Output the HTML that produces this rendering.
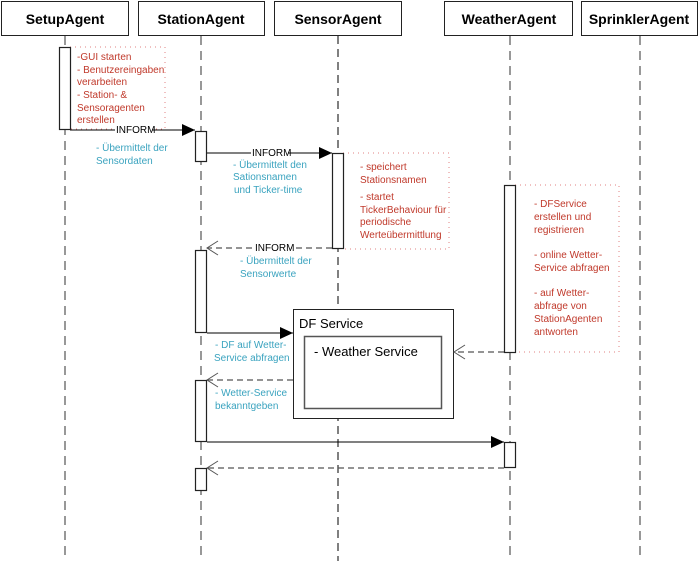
<!DOCTYPE html>
<html><head><meta charset="utf-8"><style>
body{margin:0;background:#fff;}
svg{display:block;font-family:"Liberation Sans",sans-serif;}
.h{font-weight:bold;font-size:14px;text-anchor:middle;}
.r{fill:#c0392b;font-size:10px;}
.b{fill:#3aa3bf;font-size:10px;}
.m{font-size:10px;}
</style></head><body>
<svg width="699" height="561" viewBox="0 0 699 561">
<defs>
<marker id="fa" markerWidth="14" markerHeight="12" refX="13" refY="6" orient="auto" markerUnits="userSpaceOnUse"><path d="M0,0 L13,6 L0,12 Z" fill="#000"/></marker>
<marker id="oa" markerWidth="14" markerHeight="16" refX="12" refY="8" orient="auto" markerUnits="userSpaceOnUse"><path d="M1,1 L12,8 L1,15" fill="none" stroke="#555" stroke-width="1" stroke-dasharray="none"/></marker>
</defs>
<g fill="#fff" stroke="#222" stroke-width="1">
<rect x="1.5" y="1.5" width="127" height="34"/>
<rect x="138.5" y="1.5" width="126" height="34"/>
<rect x="274.5" y="1.5" width="127" height="34"/>
<rect x="444.5" y="1.5" width="128" height="34"/>
<rect x="581.5" y="1.5" width="116" height="34"/>
</g>
<text class="h" x="65" y="24">SetupAgent</text>
<text class="h" x="201" y="24">StationAgent</text>
<text class="h" x="338" y="24">SensorAgent</text>
<text class="h" x="509" y="24">WeatherAgent</text>
<text class="h" x="639" y="24">SprinklerAgent</text>
<g stroke="#777" stroke-width="1.5" stroke-dasharray="9,6">
<line x1="65" y1="36" x2="65" y2="561"/>
<line x1="201" y1="36" x2="201" y2="561"/>
<line x1="510" y1="36" x2="510" y2="561"/>
<line x1="640" y1="36" x2="640" y2="561"/>
</g>
<line x1="338" y1="36" x2="338" y2="561" stroke="#000" stroke-width="1" stroke-dasharray="8,5"/>
<g fill="none" stroke="#e08080" stroke-width="1" stroke-dasharray="1,4">
<rect x="70" y="47" width="95" height="82"/>
<rect x="343" y="153" width="106" height="96"/>
<rect x="515" y="185" width="104" height="167"/>
</g>
<rect x="293.5" y="309.5" width="160" height="109" fill="#fff" stroke="#222"/>
<rect x="304.5" y="336.5" width="137" height="72" fill="#fff" stroke="#555" stroke-width="1.5"/>
<text x="299" y="328" font-size="13">DF Service</text>
<text x="314" y="356" font-size="13">- Weather Service</text>
<g stroke="#000" stroke-width="1" fill="none">
<line x1="70" y1="130" x2="195" y2="130" marker-end="url(#fa)"/>
<line x1="207" y1="153" x2="332" y2="153" marker-end="url(#fa)"/>
<line x1="207" y1="333" x2="293" y2="333" marker-end="url(#fa)"/>
<line x1="207" y1="442" x2="504" y2="442" marker-end="url(#fa)"/>
</g>
<g stroke="#555" stroke-width="1.3" fill="none" stroke-dasharray="6,4">
<line x1="332" y1="248" x2="207" y2="248" marker-end="url(#oa)"/>
<line x1="504" y1="352" x2="454" y2="352" marker-end="url(#oa)"/>
<line x1="293" y1="380" x2="207" y2="380" marker-end="url(#oa)"/>
<line x1="504" y1="468" x2="207" y2="468" marker-end="url(#oa)"/>
</g>
<g fill="#fff" stroke="#222" stroke-width="1.2">
<rect x="59.5" y="47.5" width="11" height="82"/>
<rect x="195.5" y="131.5" width="11" height="30"/>
<rect x="332.5" y="153.5" width="11" height="95"/>
<rect x="195.5" y="250.5" width="11" height="82"/>
<rect x="504.5" y="185.5" width="11" height="167"/>
<rect x="195.5" y="380.5" width="11" height="61"/>
<rect x="504.5" y="442.5" width="11" height="25"/>
<rect x="195.5" y="468.5" width="11" height="22"/>
</g>
<g class="m">
<rect x="115" y="125" width="37" height="10" fill="#fff"/><text x="116" y="133" class="m">INFORM</text>
<rect x="251" y="148" width="37" height="10" fill="#fff"/><text x="252" y="156" class="m">INFORM</text>
<rect x="254" y="243" width="37" height="10" fill="#fff"/><text x="255" y="251" class="m">INFORM</text>
</g>
<g class="r">
<text x="77" y="60">-GUI starten</text>
<text x="77" y="73">- Benutzereingaben</text>
<text x="77" y="85">verarbeiten</text>
<text x="77" y="98">- Station- &amp;</text>
<text x="77" y="111">Sensoragenten</text>
<text x="77" y="123">erstellen</text>
<text x="360" y="170">- speichert</text>
<text x="360" y="183">Stationsnamen</text>
<text x="360" y="200">- startet</text>
<text x="360" y="213">TickerBehaviour für</text>
<text x="360" y="225">periodische</text>
<text x="360" y="238">Werteübermittlung</text>
<text x="534" y="207">- DFService</text>
<text x="534" y="220">erstellen und</text>
<text x="534" y="233">registrieren</text>
<text x="534" y="258">- online Wetter-</text>
<text x="534" y="271">Service abfragen</text>
<text x="534" y="296">- auf Wetter-</text>
<text x="534" y="309">abfrage von</text>
<text x="534" y="322">StationAgenten</text>
<text x="534" y="335">antworten</text>
</g>
<g class="b">
<text x="96" y="151">- Übermittelt der</text>
<text x="96" y="164">Sensordaten</text>
<text x="233" y="168">- Übermittelt den</text>
<text x="233" y="180">Sationsnamen</text>
<text x="234" y="193">und Ticker-time</text>
<text x="240" y="264">- Übermittelt der</text>
<text x="240" y="277">Sensorwerte</text>
<text x="215" y="348">- DF auf Wetter-</text>
<text x="214" y="361">Service abfragen</text>
<text x="215" y="396">- Wetter-Service</text>
<text x="215" y="409">bekanntgeben</text>
</g>
</svg>
</body></html>
